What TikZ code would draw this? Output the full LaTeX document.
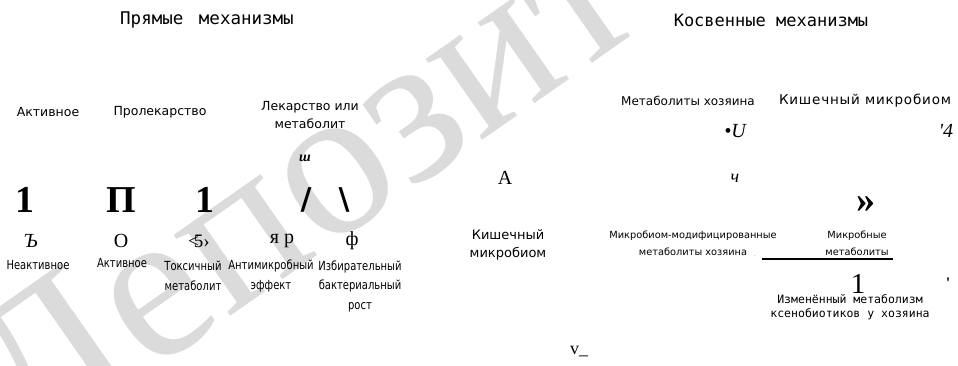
\documentclass[tikz,border=0pt]{standalone}
\usepackage{fontspec}
\setmainfont{Liberation Serif}
\newfontfamily\monof{DejaVu Sans Mono}
\newfontfamily\sansf{DejaVu Sans}
\newfontfamily\sansw[LetterSpace=6]{DejaVu Sans}
\newfontfamily\condf[FakeStretch=0.8]{DejaVu Sans}
\newfontfamily\serf{Liberation Serif}
\newcommand\fsz[2]{\fontsize{#1}{#2}\selectfont}
\tikzset{
  title/.style={font=\monof\fsz{17}{20}, inner sep=0},
  lab/.style={font=\sansf\fsz{12.5}{18.5}, align=center, inner sep=0},
  cnd/.style={font=\condf\fsz{12.5}{19.5}, align=center, inner sep=0},
  sml/.style={font=\sansf\fsz{9.8}{17}, align=center, inner sep=0},
  mon/.style={font=\monof\fsz{11.5}{13.5}, align=center, inner sep=0},
  glyph/.style={font=\serf\fsz{20}{20}, inner sep=0},
  bigg/.style={font=\serf\bfseries\fsz{38}{38}, inner sep=0},
  wmark/.style={font=\serf\fsz{215}{215}, text=black!14, inner sep=0}
}
\begin{document}
\begin{tikzpicture}[x=1pt,y=-1pt]
\useasboundingbox (0,0) rectangle (958,365);
\node[wmark, rotate=35] (wm) at (312,202) {Депозит};
% titles
\node[title, font=\monof\fsz{17.5}{20}] (t1) at (207,20) {Прямые\hspace{5pt} механизмы};
\node[title] (t2) at (771,20) {Косвенные механизмы};
% left top labels
\node[lab] (a1) at (48,112) {Активное};
\node[lab] (a2) at (160,112) {Пролекарство};
\node[lab] (a3) at (310,115) {Лекарство или\\метаболит};
\node[font=\serf\bfseries\itshape\fsz{14}{14}, inner sep=0] (sh) at (305,158) {ш};
% big glyphs
\node[bigg] (b1) at (25,200) {1};
\node[bigg] (b2) at (121,200) {П};
\node[bigg] (b3) at (205,200) {1};
\node[font=\sansf\bfseries\fsz{30}{30}, inner sep=0] (b4) at (306,200) {/};
\node[font=\sansf\bfseries\fsz{30}{30}, inner sep=0] (b5) at (344,200) {\textbackslash};
% small glyph row
\node[glyph, font=\serf\itshape\fsz{20}{20}] (g1) at (31,241) {Ъ};
\node[glyph] (g2) at (121,241) {О};
\node[glyph, font=\serf\fsz{19}{19}] (g3) at (199,241) {<\kern-5pt5›};
\node[glyph] (g4) at (282,241) {я р};
\node[glyph] (g5) at (352,241) {ф};
% bottom labels
\node[cnd] (c1) at (38,265) {Неактивное};
\node[cnd] (c2) at (122,263) {Активное};
\node[cnd] (c3) at (193,276) {Токсичный\\метаболит};
\node[cnd] (c4) at (271,276) {Антимикробный\\эффект};
\node[cnd] (c5) at (360,286) {Избирательный\\бактериальный\\рост};
% right side
\node[lab, font=\sansf\fsz{12}{18}] (r1) at (688,101) {Метаболиты хозяина};
\node[lab, font=\sansw\fsz{13.5}{18}] (r2) at (865,101) {Кишечный микробиом};
\node[glyph, font=\serf\itshape\fsz{20}{20}] (r3) at (735,131) {•U};
\node[glyph, font=\serf\itshape\fsz{20}{20}] (r4) at (946,131) {'4};
\node[glyph] (r5) at (505,178) {А};
\node[glyph, font=\serf\itshape\fsz{18}{18}] (r6) at (735,178) {ч};
\node[glyph, font=\serf\bfseries\fsz{38}{38}] (r7) at (866,205) {»};
\node[lab, font=\sansf\fsz{13}{18}] (r8) at (508,245) {Кишечный\\микробиом};
\node[sml] (r9) at (693,243) {Микробиом-модифицированные\\метаболиты хозяина};
\node[sml] (r10) at (857,243) {Микробные\\метаболиты};
\node[glyph, font=\serf\fsz{5}{5}] (dot) at (755,256) {.};
\coordinate (la) at (762,259);
\coordinate (lb) at (893,259);
\draw[line width=2pt] (la) -- (lb);
\node[glyph, font=\serf\fsz{29}{29}] (r11) at (858,284) {1};
\node[glyph, font=\serf\bfseries\fsz{16}{16}] (r12) at (948,283) {'};
\node[mon] (r13) at (850,307) {Изменённый метаболизм\\ксенобиотиков у хозяина};
\node[glyph, font=\serf\fsz{18}{18}] (r14) at (579,352) {v\_};
\end{tikzpicture}
\end{document}
